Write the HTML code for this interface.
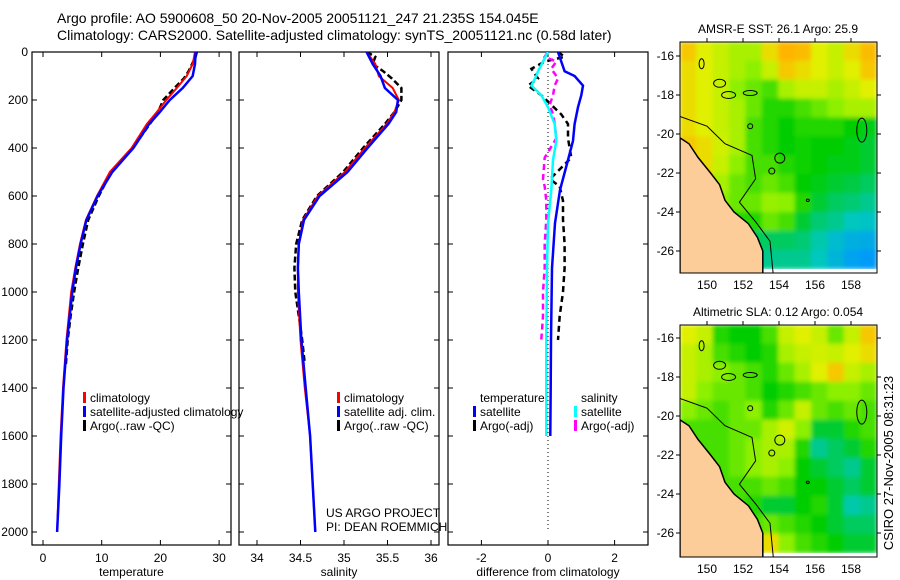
<!DOCTYPE html>
<html><head><meta charset="utf-8"><style>
html,body{margin:0;padding:0;background:#fff;}
svg{display:block;font-family:"Liberation Sans",sans-serif;}
text{fill:#000;}
</style></head><body>
<svg id="fig" width="900" height="580" viewBox="0 0 900 580" xmlns="http://www.w3.org/2000/svg">
<defs>
<filter id="blur" x="0" y="0" width="1" height="1"><feGaussianBlur stdDeviation="2"/></filter>
<clipPath id="clipM1"><rect x="680" y="42" width="197" height="231"/></clipPath>
<clipPath id="clipM2"><rect x="680" y="325" width="197" height="232"/></clipPath>
<clipPath id="clipP1"><rect x="32" y="52" width="199" height="493"/></clipPath>
<clipPath id="clipP2"><rect x="239" y="52" width="200" height="493"/></clipPath>
<clipPath id="clipP3"><rect x="448" y="52" width="200" height="493"/></clipPath>
</defs>
<text x="57" y="23" font-size="14">Argo profile: AO 5900608_50 20-Nov-2005 20051121_247 21.235S 154.045E</text>
<text x="57" y="40" font-size="14">Climatology: CARS2000. Satellite-adjusted climatology: synTS_20051121.nc (0.58d later)</text>
<g id="p1"></g>
<g id="p2"></g>
<g id="p3"></g>
<g id="m1"></g>
<g id="m2"></g>
<text transform="translate(893,463) rotate(-90)" text-anchor="middle" font-size="13">CSIRO 27-Nov-2005 08:31:23</text>
</svg>
<script>
// ---- profile data ----
const depthClim = [0,50,100,150,200,250,300,400,500,600,700,800,900,1000,1200,1400,1600,1800,2000];
const tempClim  = [25.9,25.5,24.5,22.8,21.0,19.4,17.7,15.1,11.4,9.2,7.3,6.3,5.5,4.8,4.0,3.4,3.0,2.7,2.4];
const tempSat   = [26.0,25.9,25.5,23.8,21.6,19.9,18.1,15.4,11.8,9.3,7.4,6.4,5.6,5.0,4.1,3.5,3.1,2.8,2.4];
const depthArgo = [0,20,50,80,110,150,200,250,300,400,500,600,700,800,900,1000,1100,1200,1300];
const tempArgo  = [26.2,26.0,25.4,24.8,24.0,22.4,20.5,19.6,18.2,15.3,11.6,9.5,7.7,6.8,6.0,5.3,4.7,4.2,3.9];
const salClim   = [35.26,35.36,35.40,35.56,35.63,35.58,35.49,35.24,35.01,34.70,34.53,34.48,34.47,34.47,34.50,34.55,34.61,34.64,34.67];
const salSat    = [35.26,35.33,35.42,35.47,35.62,35.60,35.51,35.27,35.04,34.72,34.54,34.48,34.47,34.48,34.51,34.56,34.61,34.64,34.67];
const salArgo   = [35.26,35.36,35.33,35.45,35.55,35.66,35.66,35.58,35.47,35.22,34.99,34.69,34.52,34.45,34.43,34.44,34.48,34.52,34.55];
// ---- difference data ----
const depthDiff = [0,20,40,70,110,140,180,220,260,300,360,440,530,560,620,700,800,900,1000,1100,1200];
const tDiffArgo = [0.3,0.5,-0.1,-0.5,-0.3,-0.6,-0.2,0.1,0.4,0.6,0.6,0.7,0.06,0.35,0.45,0.45,0.5,0.5,0.45,0.35,0.3];
const sDiffArgo = [0.0,-0.1,0.25,0.1,0.3,0.2,0.15,0.05,0.15,0.2,0.25,-0.1,-0.15,-0.1,-0.05,-0.05,-0.1,-0.1,-0.15,-0.15,-0.2];
const depthSat  = [0,40,80,100,140,180,230,300,370,450,575,713,900,1200,1400,1600];
const tDiffSat  = [0.3,0.4,0.5,0.8,1.05,1.0,0.9,0.8,0.75,0.6,0.36,0.21,0.12,0.09,0.08,0.07];
const sDiffSat  = [0.0,-0.15,-0.3,-0.35,-0.5,-0.2,0.0,0.2,0.25,0.15,0.1,0.0,-0.03,-0.05,-0.05,-0.05];
// ---- tick labels ----
const depthTicks = [0,200,400,600,800,1000,1200,1400,1600,1800,2000];
const tempTicks = [0,10,20,30];
const salTicks = [34,34.5,35,35.5,36];
const diffTicks = [-2,0,2];
const lonTicks = [150,152,154,156,158];
const latTicks = [-16,-18,-20,-22,-24,-26];
// ---- map fields (rows north->south, 12 cols 148.5..159.5E) ----
const sstGrid = [
[.85,.75,.7,.65,.65,.8,.9,.88,.75,.7,.8,.88],
[.8,.75,.7,.65,.6,.7,.85,.8,.75,.7,.75,.85],
[.8,.75,.7,.6,.55,.5,.65,.7,.7,.65,.7,.75],
[.8,.75,.7,.65,.55,.45,.45,.5,.55,.6,.65,.65],
[.8,.75,.7,.65,.5,.45,.4,.45,.45,.45,.4,.38],
[.85,.8,.72,.65,.5,.45,.4,.42,.4,.4,.38,.35],
[.88,.8,.7,.6,.5,.5,.45,.42,.4,.38,.38,.35],
[.85,.8,.65,.55,.5,.55,.5,.4,.38,.35,.33,.3],
[.8,.7,.6,.55,.55,.62,.6,.45,.35,.3,.28,.25],
[.75,.65,.5,.45,.45,.55,.5,.35,.28,.25,.2,.18],
[.6,.5,.35,.3,.3,.3,.3,.28,.22,.15,.1,.08],
[.5,.4,.3,.25,.25,.25,.25,.25,.2,.12,.05,.02]];
const slaGrid = [
[.75,.7,.45,.4,.4,.5,.7,.75,.7,.55,.7,.85],
[.7,.65,.5,.45,.4,.45,.65,.7,.72,.7,.75,.8],
[.7,.65,.6,.55,.5,.45,.55,.65,.75,.85,.7,.65],
[.7,.6,.55,.55,.5,.4,.45,.5,.55,.6,.6,.55],
[.6,.55,.5,.55,.6,.45,.55,.7,.55,.5,.55,.5],
[.5,.5,.5,.55,.55,.65,.72,.6,.35,.35,.45,.5],
[.5,.5,.5,.55,.6,.65,.65,.45,.25,.3,.35,.45],
[.5,.5,.5,.55,.6,.65,.6,.4,.35,.3,.25,.35],
[.5,.5,.5,.5,.5,.55,.5,.4,.4,.35,.3,.35],
[.5,.5,.5,.5,.45,.35,.35,.4,.45,.35,.22,.25],
[.5,.5,.5,.5,.5,.55,.5,.45,.4,.35,.3,.3],
[.5,.5,.5,.5,.6,.8,.6,.5,.45,.4,.35,.35]];
const coastLon = [148.5,149,149.5,150.2,150.7,151,151.5,152.3,152.8,153.1,153.1,148.5];
const coastLat = [-20.2,-20.5,-21.2,-22,-22.6,-23.4,-24,-24.6,-25.3,-26,-27.4,-27.4];
const isoLon = [148.5,150,151,152.5,152.7,151.8,152.7,153.5,153.7];
const isoLat = [-19.1,-19.6,-20.5,-21.1,-22.3,-23.5,-24.5,-25.5,-27.4];
const argoLon = 154.045, argoLat = -21.235;

const NS='http://www.w3.org/2000/svg';
function mk(parent,tag,attrs){const e=document.createElementNS(NS,tag);for(const k in attrs)e.setAttribute(k,attrs[k]);parent.appendChild(e);return e;}
function txt(parent,x,y,s,attrs){const t=mk(parent,'text',Object.assign({x:x,y:y,'font-size':12},attrs||{}));t.textContent=s;return t;}
const yD = d => 52 + d*0.24;

function panel(g,x0,x1,xs,ticks,fmt,label,clip){
  mk(g,'rect',{x:x0,y:52,width:x1-x0,height:493,fill:'none',stroke:'#000','stroke-width':1.2});
  depthTicks.forEach(d=>{mk(g,'line',{x1:x0,x2:x0+5,y1:yD(d),y2:yD(d),stroke:'#000'});mk(g,'line',{x1:x1-5,x2:x1,y1:yD(d),y2:yD(d),stroke:'#000'});});
  ticks.forEach(v=>{const x=xs(v);mk(g,'line',{x1:x,x2:x,y1:52,y2:57,stroke:'#000'});mk(g,'line',{x1:x,x2:x,y1:540,y2:545,stroke:'#000'});
    const t=txt(g,x,562,fmt(v),{'text-anchor':'middle'});});
  const l=txt(g,(x0+x1)/2,576,label,{'text-anchor':'middle'});
  
  
  const lines=mk(g,'g',{'clip-path':'url(#'+clip+')'});return lines;
}
function line(g,xs,vals,deps,color,w,dash,name){
  const pts=vals.map((v,i)=>xs(v).toFixed(1)+','+yD(deps[i]).toFixed(1)).join(' ');
  const p=mk(g,'polyline',{points:pts,fill:'none',stroke:color,'stroke-width':w});
  if(dash)p.setAttribute('stroke-dasharray',dash);
  
  
}
function legend(g,x,y,items){items.forEach((it,i)=>{if(it[1]){mk(g,'rect',{x:x,y:y+i*14-10,width:3,height:11,fill:it[1]});}
  const t=txt(g,x+7,y+i*14,it[0]);});}

const root=document.getElementById('fig');
depthTicks.forEach(d=>{const t=txt(root,28,yD(d)+4,String(d),{'text-anchor':'end'});});

const xT=v=>43+v*5.87;
let g=panel(document.getElementById('p1'),32,231,xT,tempTicks,String,'temperature','clipP1');
line(g,xT,tempArgo,depthArgo,'#000',2.5,'6,3','argo-temperature-line');
line(g,xT,tempClim,depthClim,'#f00',2,null,'climatology-temperature-line');
line(g,xT,tempSat,depthClim,'#00f',2.5,null,'satellite-temperature-line');
legend(document.getElementById('p1'),83,402,[['climatology','#f00'],['satellite-adjusted climatology','#00f'],['Argo(..raw -QC)','#000']]);

const xS=v=>257+(v-34)*87;
g=panel(document.getElementById('p2'),239,439,xS,salTicks,String,'salinity','clipP2');
line(g,xS,salArgo,depthArgo,'#000',2.5,'6,3','argo-salinity-line');
line(g,xS,salClim,depthClim,'#f00',2,null,'climatology-salinity-line');
line(g,xS,salSat,depthClim,'#00f',2.5,null,'satellite-salinity-line');
const p2=document.getElementById('p2');
legend(p2,337,402,[['climatology','#f00'],['satellite adj. clim.','#00f'],['Argo(..raw -QC)','#000']]);
txt(p2,326,517,'US ARGO PROJECT');txt(p2,326,531,'PI: DEAN ROEMMICH');

const xDf=v=>548+v*33.3;
g=panel(document.getElementById('p3'),448,648,xDf,diffTicks,String,'difference from climatology','clipP3');
mk(g,'line',{x1:548,x2:548,y1:52,y2:yD(2000),stroke:'#000','stroke-dasharray':'1,3'});
line(g,xDf,tDiffArgo,depthDiff,'#000',2.5,'6,4','argo-temp-diff-line');
line(g,xDf,sDiffArgo,depthDiff,'#f0f',2.5,'6,4','argo-sal-diff-line');
line(g,xDf,tDiffSat,depthSat,'#00f',2.5,null,'sat-temp-diff-line');
line(g,xDf,sDiffSat,depthSat,'#0ff',2.5,null,'sat-sal-diff-line');
const p3=document.getElementById('p3');
legend(p3,473,402,[['temperature',null],['satellite','#00f'],['Argo(-adj)','#000']]);
legend(p3,574,402,[['salinity',null],['satellite','#0ff'],['Argo(-adj)','#f0f']]);

const stops=[[0,[0,150,255]],[0.2,[0,200,190]],[0.4,[0,205,0]],[0.6,[140,240,0]],[0.75,[225,240,0]],[0.9,[255,180,0]],[1,[255,150,0]]];
function cmap(v){for(let i=1;i<stops.length;i++){if(v<=stops[i][0]){const a=stops[i-1],b=stops[i],f=(v-a[0])/(b[0]-a[0]);
  return 'rgb('+a[1].map((c,k)=>Math.round(c+(b[1][k]-c)*f)).join(',')+')';}}return 'rgb(255,150,0)';}
function drawMap(id,top,bot,lat16y,grid,title,clip){
  const gm=document.getElementById(id);
  const lx=lon=>707+(lon-150)*18, ly=lat=>lat16y+(-16-lat)*19.5;
  const t=txt(gm,778,top-9,title,{'text-anchor':'middle','font-size':12});
  
  
  const cg=mk(gm,'g',{'clip-path':'url(#'+clip+')'});
  const fg=mk(cg,'g',{filter:'url(#blur)'});
  const dataBot=bot-4;
  const cw=197/12, ch=(dataBot-top)/12;
  grid.forEach((row,r)=>row.forEach((v,c)=>{const cell=mk(fg,'rect',{x:680+c*cw-0.3,y:top+r*ch-0.3,width:cw+0.6,height:ch+0.6,fill:cmap(v)});
    
    }));
  mk(cg,'rect',{x:680,y:dataBot,width:197,height:6,fill:'#fff'});
  mk(cg,'polygon',{points:coastLon.map((l,i)=>lx(l)+','+ly(coastLat[i])).join(' '),fill:'#fccc99',stroke:'#000','stroke-width':1.5});
  mk(cg,'polyline',{points:isoLon.map((l,i)=>lx(l)+','+ly(isoLat[i])).join(' '),fill:'none',stroke:'#000','stroke-width':1});
  [[149.7,-16.4,2.5,5],[150.7,-17.4,6,4],[151.2,-18.0,7,3.5],[152.4,-17.9,7,2.5],[152.4,-19.6,2.5,2.5],[153.6,-21.9,3,3],[158.6,-19.8,5,12],[155.6,-23.4,1.5,1.2]].forEach(e=>{
    mk(cg,'ellipse',{cx:lx(e[0]),cy:ly(e[1]),rx:e[2],ry:e[3],fill:'none',stroke:'#000','stroke-width':1});});
  const c=mk(cg,'circle',{cx:lx(argoLon),cy:ly(argoLat),r:5,fill:'none',stroke:'#000','stroke-width':1});
  
  
  mk(gm,'rect',{x:680,y:top,width:197,height:bot-top,fill:'none',stroke:'#000','stroke-width':1});
  lonTicks.forEach(l=>{const x=lx(l);mk(gm,'line',{x1:x,x2:x,y1:top-4,y2:top,stroke:'#000'});
    const tl=txt(gm,x,bot+16,String(l),{'text-anchor':'middle'});});
  latTicks.forEach(l=>{const y=ly(l);mk(gm,'line',{x1:676,x2:680,y1:y,y2:y,stroke:'#000'});mk(gm,'line',{x1:877,x2:881,y1:y,y2:y,stroke:'#000'});
    const tl=txt(gm,674,y+4,String(l),{'text-anchor':'end'});});
}
drawMap('m1',42,273,56,sstGrid,'AMSR-E SST: 26.1  Argo: 25.9','clipM1');
drawMap('m2',325,557,338,slaGrid,'Altimetric SLA: 0.12  Argo: 0.054','clipM2');
</script>
</body></html>
